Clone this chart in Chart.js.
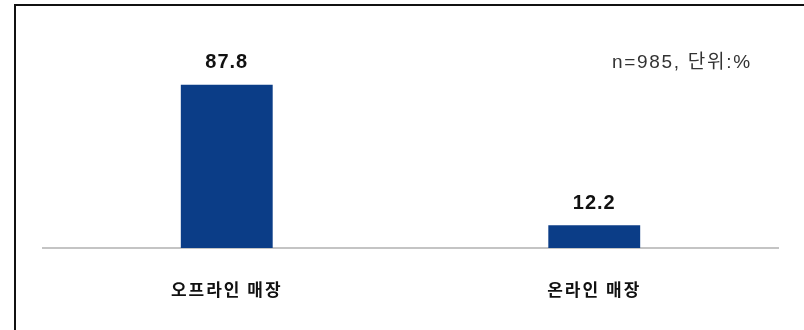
<!DOCTYPE html>
<html>
<head>
<meta charset="utf-8">
<script src="https://cdn.jsdelivr.net/npm/chart.js@4"></script>
<style>
  html, body { margin: 0; padding: 0; background: #fff; }
  #wrap { position: relative; width: 804px; height: 330px; overflow: hidden; }
  #frame { position: absolute; left: 14px; top: 4px; width: 800px; height: 340px;
           border-left: 2px solid #111; border-top: 2px solid #111; }
  #note { position: absolute; left: 612px; top: 46px; font: 19px "Liberation Sans", "Noto Sans CJK KR", sans-serif;
          letter-spacing: 1.7px; color: #333; white-space: nowrap; }
  canvas { position: absolute; left: 0; top: 0; }
</style>
</head>
<body>
<div id="wrap">
  <div id="frame"></div>
  <canvas id="chart" width="804" height="330"></canvas>
  <div id="note">n=985, 단위:%</div>
</div>
<script>
var channels = ['오프라인 매장', '온라인 매장'];
var shares = [87.8, 12.2];

var barColor = '#0b3d87';
var fontFamily = '"Liberation Sans", "Noto Sans CJK KR", sans-serif';

// value above each bar, channel name under the axis
var barText = {
	id: 'barText',
	afterDatasetsDraw: function(chart) {
		var ctx = chart.ctx;
		var meta = chart.getDatasetMeta(0);
		var bottom = chart.chartArea.bottom;
		ctx.save();
		ctx.textAlign = 'center';
		ctx.textBaseline = 'middle';
		ctx.fillStyle = '#111';
		meta.data.forEach(function(bar, i) {
			ctx.font = 'bold 20px ' + fontFamily;
			ctx.letterSpacing = '1px';
			ctx.fillText(shares[i].toFixed(1), bar.x, bar.y - 22);
			ctx.font = 'bold 17px "Noto Sans CJK KR", sans-serif';
			ctx.letterSpacing = '2px';
			ctx.fillText(channels[i], bar.x, bottom + 42);
		});
		ctx.restore();
	}
};

new Chart(document.getElementById('chart'), {
	type: 'bar',
	data: {
		labels: channels,
		datasets: [{
			data: shares,
			backgroundColor: barColor,
			barPercentage: 0.5,
			categoryPercentage: 0.5
		}]
	},
	options: {
		responsive: false,
		animation: false,
		layout: { padding: { left: 43, right: 26, top: 62, bottom: 82 } },
		plugins: { legend: { display: false }, tooltip: { enabled: false } },
		scales: {
			y: { display: false, min: 0, max: 100 },
			x: {
				grid: { display: false, drawTicks: false },
				border: { display: true, color: '#c4c4c4', width: 2 },
				ticks: { display: false }
			}
		}
	},
	plugins: [barText]
});
</script>
</body>
</html>
